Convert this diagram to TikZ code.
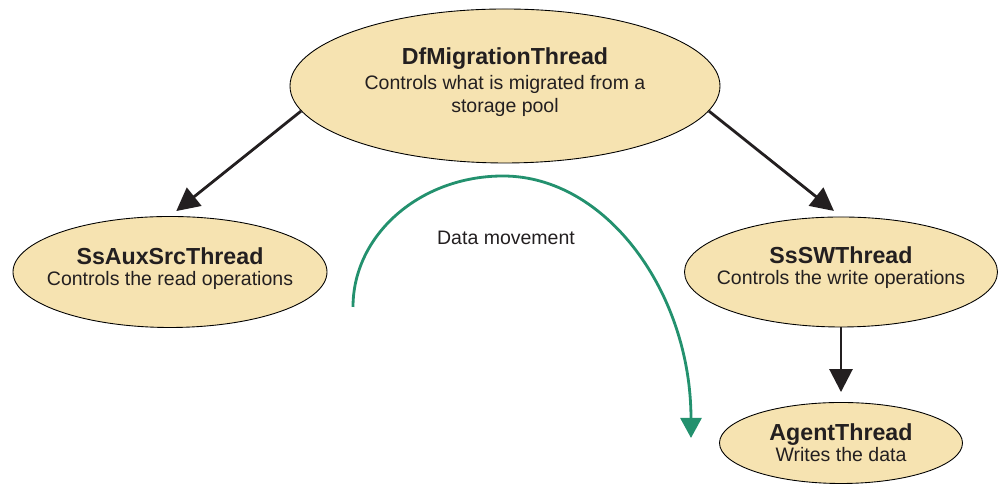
\documentclass[tikz,border=0pt]{standalone}
\usepackage{fontspec}
\setmainfont{Liberation Sans}
\usetikzlibrary{shapes.geometric}
\usetikzlibrary{arrows.meta}
\definecolor{threadfill}{RGB}{246,227,177}
\definecolor{flowgreen}{RGB}{35,145,110}
\definecolor{textgray}{RGB}{35,31,32}
\tikzset{
	threadstyle/.style={ellipse, draw=black, line width=0.5pt, fill=threadfill, inner sep=0pt},
	threadtext/.style={align=center, text=textgray, font=\fontsize{11.1}{13.1}\selectfont},
	callstyle/.style={-{Triangle[length=0.46cm, width=0.46cm]}, line width=1.6pt, draw=textgray},
	flowstyle/.style={-{Triangle[length=0.4cm, width=0.42cm]}, line width=1.6pt, draw=flowgreen}
}
\newcommand{\threadname}[1]{{\fontsize{13.2}{13.7}\selectfont\bfseries #1}}

\begin{document}
\begin{tikzpicture}
	\useasboundingbox (0,0) rectangle (19.96,9.74);
	\node[threadstyle, minimum width=8.6cm, minimum height=3.08cm,
		label={[threadtext, name=mig-text, yshift=0.08cm]center:{\threadname{DfMigrationThread}\\[1.1pt]Controls what is migrated from a\\storage pool}}] (mig) at (10.1,8.02) {};
	\node[threadstyle, minimum width=6.28cm, minimum height=2.22cm,
		label={[threadtext, name=aux-text, yshift=0.06cm]center:{\threadname{SsAuxSrcThread}\\[-1.1pt]Controls the read operations}}] (aux) at (3.4,4.3) {};
	\node[threadstyle, minimum width=6.26cm, minimum height=2.2cm,
		label={[threadtext, name=sw-text, yshift=0.08cm]center:{\threadname{SsSWThread}\\[-1.1pt]Controls the write operations}}] (sw) at (16.82,4.3) {};
	\node[threadstyle, minimum width=4.86cm, minimum height=1.62cm,
		label={[threadtext, name=agent-text]center:{\threadname{AgentThread}\\[-1.1pt]Writes the data}}] (agent) at (16.82,0.88) {};
	\draw[callstyle, shorten >=0.16cm] (mig.187)--(aux.north);
	\draw[callstyle, shorten >=0.18cm] (mig.353)--(sw.north);
	\draw[callstyle, shorten >=0.2cm] (sw.south)--(agent.north);
	% data movement
	\coordinate (src) at (7.06,3.6);
	\draw[flowstyle] (src) arc[start angle=180, end angle=90, x radius=3cm, y radius=2.62cm]
		arc[start angle=90, end angle=0, x radius=3.76cm, y radius=5.24cm] coordinate (dst);
	\node[threadtext] (move) at (10.12,4.98) {Data movement};
\end{tikzpicture}
\end{document}
